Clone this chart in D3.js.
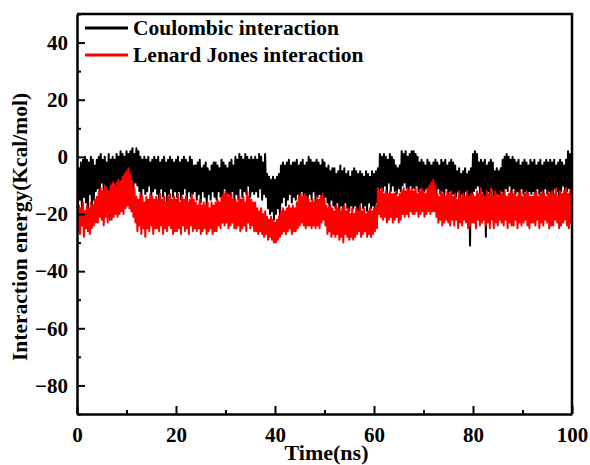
<!DOCTYPE html>
<html lang="en">
<head>
<meta charset="UTF-8">
<title>Interaction energy</title>
<script src="https://cdnjs.cloudflare.com/ajax/libs/d3/7.8.5/d3.min.js"></script>
<style>
  body { margin: 0; background: #fff; }
  text { font-family: "Liberation Serif", "Times New Roman", serif; font-weight: bold; }
</style>
</head>
<body>
<svg id="chart" width="590" height="465"></svg>
<script>
// sampling step of the traces (ns)
const dt = 0.2
const seriesNames = ["Coulombic interaction", "Lenard Jones interaction"]
const seriesColors = ["#000000", "#ff0000"]
const xTicks = [0, 20, 40, 60, 80, 100]
const yTicks = [-80, -60, -40, -20, 0, 20, 40]

// Coulombic interaction (kcal/mol), one value every dt ns
const coulombic = [
  -6,-17,-4,-15,-2,-18,-1,-14,0,-16,-1,-19,-2,-13,0,-17,-1,-15,-3,-12,
  -1,-11,0,-13,1,-9,-1,-12,0,-10,-2,-14,1,-22,-1,-11,0,-9,-1,-12,
  1,-10,0,-12,2,-8,1,-11,0,-9,2,-12,1,-10,2,-8,3,-11,1,-9,
  3,-10,2,-12,0,-14,-1,-11,0,-13,-1,-12,0,-10,-2,-14,-1,-12,0,-11,
  -1,-13,0,-15,-2,-11,-1,-14,0,-12,-2,-16,-1,-13,0,-11,-1,-14,-2,-12,
  -1,-14,0,-12,-2,-15,-1,-13,0,-11,-1,-16,-2,-12,0,-14,-1,-13,-3,-12,
  -3,-15,-2,-13,-1,-16,-4,-12,-3,-14,-2,-17,-4,-13,-5,-15,-3,-12,-2,-14,
  -2,-15,-3,-12,-4,-14,-1,-16,-2,-11,-3,-15,-4,-13,-2,-14,-1,-12,-3,-15,
  0,-13,-1,-15,1,-11,0,-14,-1,-12,1,-13,0,-10,-1,-14,0,-12,-1,-13,
  0,-12,-1,-14,1,-11,0,-15,-2,-13,1,-14,-6,-18,-7,-20,-8,-19,-7,-22,
  -8,-20,-7,-18,-6,-21,-3,-16,-2,-14,-3,-17,-2,-15,-1,-13,-3,-16,-2,-14,
  -2,-15,-1,-13,-3,-16,-2,-12,-1,-15,-3,-14,-2,-16,0,-13,-1,-15,-2,-12,
  -2,-16,-1,-14,-2,-13,-3,-15,-1,-17,-2,-14,-4,-16,-3,-18,-5,-15,-4,-17,
  -4,-18,-6,-16,-5,-19,-3,-17,-5,-20,-4,-16,-6,-18,-5,-19,-7,-17,-5,-18,
  -4,-17,-5,-19,-6,-25,-5,-16,-6,-18,-7,-17,-5,-19,-6,-16,-7,-18,-5,-17,
  -6,-18,-5,-16,-4,-13,1,-11,0,-12,1,-10,0,-13,-1,-9,1,-12,0,-10,
  -1,-12,-3,-13,-4,-11,-3,-12,2,-10,1,-9,2,-11,0,-12,1,-10,2,-11,
  2,-11,1,-10,0,-12,-2,-11,-1,-13,-2,-12,-3,-11,-1,-13,-2,-12,-3,-11,
  -2,-12,-1,-14,-2,-11,-3,-13,-1,-12,-2,-14,-1,-11,-3,-13,-2,-12,-1,-13,
  -2,-13,-3,-14,-5,-12,-4,-15,-6,-13,-5,-14,-4,-12,-6,-14,-5,-31,-4,-13,
  1,-12,2,-11,1,-10,-2,-13,-1,-12,-2,-14,-1,-28,-3,-12,-2,-13,-1,-11,
  -2,-20,-5,-14,-4,-13,-5,-15,-4,-12,-1,-13,0,-11,1,-12,0,-10,-1,-13,
  0,-11,-1,-13,-2,-12,-1,-14,-3,-11,-2,-13,-1,-12,-2,-14,-3,-12,-1,-13,
  -2,-12,-1,-14,-3,-11,-2,-13,-1,-12,-3,-14,-2,-11,-1,-13,-2,-12,-1,-14,
  -2,-13,-1,-11,-3,-12,-2,-14,-1,-12,-2,-10,-3,-13,-1,-12,2,-11,1,-13,
  0
]

// Lenard Jones interaction (kcal/mol), one value every dt ns
const lennardJones = [
  -8,-26,-17,-27,-18,-24,-16,-28,-19,-25,-17,-26,-18,-27,-16,-25,-17,-24,-15,-23,
  -14,-23,-12,-21,-11,-22,-12,-24,-10,-21,-11,-23,-12,-20,-10,-22,-9,-21,-10,-20,
  -9,-21,-8,-20,-9,-19,-7,-20,-6,-18,-5,-17,-4,-18,-6,-19,-9,-21,-11,-23,
  -14,-26,-15,-24,-13,-27,-14,-25,-16,-28,-14,-25,-15,-26,-13,-24,-14,-27,-15,-25,
  -14,-25,-15,-26,-13,-24,-15,-27,-14,-25,-16,-26,-14,-24,-13,-25,-15,-27,-14,-26,
  -15,-26,-13,-25,-16,-27,-14,-24,-15,-26,-14,-25,-16,-27,-15,-24,-13,-26,-15,-25,
  -16,-26,-17,-25,-15,-27,-17,-26,-16,-25,-17,-27,-16,-26,-18,-25,-16,-27,-17,-26,
  -16,-26,-15,-24,-16,-25,-14,-23,-13,-24,-12,-23,-13,-25,-14,-24,-13,-23,-15,-25,
  -15,-25,-16,-24,-14,-26,-15,-25,-14,-24,-16,-26,-12,-23,-14,-25,-15,-24,-16,-26,
  -16,-26,-18,-27,-19,-26,-18,-27,-20,-28,-19,-27,-21,-29,-22,-28,-21,-29,-22,-30,
  -23,-30,-22,-29,-21,-28,-19,-27,-18,-26,-19,-27,-18,-26,-17,-25,-18,-27,-17,-26,
  -18,-26,-16,-25,-14,-24,-13,-23,-14,-24,-13,-25,-14,-24,-15,-24,-16,-25,-15,-24,
  -16,-25,-14,-24,-15,-25,-14,-23,-13,-22,-15,-24,-17,-27,-18,-26,-17,-28,-18,-27,
  -19,-28,-17,-27,-18,-29,-19,-28,-18,-30,-17,-27,-19,-28,-18,-29,-20,-28,-18,-29,
  -20,-28,-18,-27,-19,-26,-17,-28,-19,-27,-18,-26,-20,-28,-19,-27,-18,-28,-19,-27,
  -18,-26,-17,-25,-11,-20,-12,-21,-11,-22,-13,-21,-12,-23,-13,-22,-12,-21,-13,-23,
  -13,-22,-12,-21,-14,-23,-13,-22,-12,-20,-11,-21,-12,-20,-11,-21,-12,-19,-11,-20,
  -12,-20,-11,-19,-13,-21,-12,-20,-11,-19,-12,-21,-13,-20,-11,-19,-10,-20,-9,-19,
  -8,-19,-10,-21,-13,-23,-14,-22,-12,-24,-13,-23,-14,-22,-12,-23,-13,-24,-12,-22,
  -14,-24,-13,-22,-15,-25,-12,-23,-14,-24,-13,-22,-14,-23,-12,-25,-14,-24,-13,-23,
  -13,-23,-14,-25,-12,-22,-13,-24,-11,-23,-13,-22,-14,-24,-12,-23,-13,-25,-11,-22,
  -14,-25,-12,-23,-13,-24,-14,-22,-12,-23,-13,-24,-12,-22,-14,-25,-13,-23,-12,-24,
  -13,-24,-12,-22,-14,-25,-13,-23,-12,-24,-14,-23,-13,-22,-12,-24,-13,-25,-14,-23,
  -14,-23,-13,-24,-12,-22,-14,-25,-13,-23,-12,-24,-13,-22,-14,-23,-12,-25,-13,-24,
  -12,-24,-13,-22,-11,-23,-14,-25,-12,-24,-13,-23,-12,-22,-11,-24,-13,-25,-12,-23,
  -15
]

let svg = d3.select("#chart")
let margin = {left: 77, top: 14, right: 18, bottom: 51}
let w = 590 - margin.left - margin.right
let h = 465 - margin.top - margin.bottom

let g = svg.append("g").attr("transform", `translate(${margin.left},${margin.top})`)

let x = d3.scaleLinear().domain([0, 100]).range([0, w])
let y = d3.scaleLinear().domain([-90, 50]).range([h, 0])

let line = d3.line()
  .x((d, i) => x(i * dt))
  .y(d => y(d))

let clip = g.append("clipPath").attr("id", "clip")
clip.append("rect").attr("width", w).attr("height", h)

let plot = g.append("g").attr("clip-path", "url(#clip)")
;[coulombic, lennardJones].forEach((s, k) => {
  plot.append("path")
    .datum(s)
    .attr("d", line)
    .attr("fill", "none")
    .attr("stroke", seriesColors[k])
    .attr("stroke-width", 2)
    .attr("stroke-linejoin", "round")
})

// minor ticks
g.append("g")
  .call(d3.axisLeft(y).tickValues(d3.range(-90, 51, 10).filter(v => !yTicks.includes(v))).tickSize(-4).tickFormat(""))
  .call(a => a.select(".domain").remove())
  .selectAll("line").attr("stroke-width", 2)
g.append("g")
  .attr("transform", `translate(0,${h})`)
  .call(d3.axisBottom(x).tickValues([10, 30, 50, 70, 90]).tickSize(-4).tickFormat(""))
  .call(a => a.select(".domain").remove())
  .selectAll("line").attr("stroke-width", 2)

// major axes
let yAxis = g.append("g")
  .call(d3.axisLeft(y).tickValues(yTicks).tickSizeInner(-8).tickSizeOuter(0).tickPadding(9))
let xAxis = g.append("g")
  .attr("transform", `translate(0,${h})`)
  .call(d3.axisBottom(x).tickValues(xTicks).tickSizeInner(-8).tickSizeOuter(0).tickPadding(13))

;[xAxis, yAxis].forEach(a => {
  a.select(".domain").attr("stroke-width", 2.5)
  a.selectAll("line").attr("stroke-width", 2)
  a.selectAll("text").attr("font-size", 21).attr("fill", "#000")
    .style("font-family", "'Liberation Serif', serif").style("font-weight", "bold")
})

// frame top and right
g.append("path")
  .attr("d", `M0,0H${w}V${h}`)
  .attr("fill", "none")
  .attr("stroke", "#000")
  .attr("stroke-width", 2.5)

// axis titles
svg.append("text")
  .attr("x", margin.left + w / 2 + 2)
  .attr("y", 460)
  .attr("text-anchor", "middle")
  .attr("font-size", 22)
  .text("Time(ns)")

svg.append("text")
  .attr("transform", "translate(27,227) rotate(-90)")
  .attr("text-anchor", "middle")
  .attr("font-size", 21.5)
  .text("Interaction energy(Kcal/mol)")

// legend
let legend = svg.append("g")
seriesNames.forEach((n, k) => {
  let ly = 28 + k * 27
  legend.append("line")
    .attr("x1", 85).attr("x2", 128)
    .attr("y1", ly).attr("y2", ly)
    .attr("stroke", seriesColors[k])
    .attr("stroke-width", 3)
  legend.append("text")
    .attr("x", 133).attr("y", ly + 7)
    .attr("font-size", 21.5)
    .text(n)
})
</script>
</body>
</html>
